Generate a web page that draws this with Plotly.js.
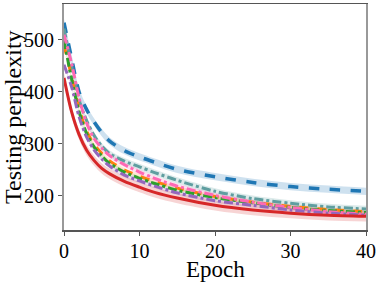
<!DOCTYPE html>
<html><head><meta charset="utf-8">
<script src="https://cdn.plot.ly/plotly-3.0.1.min.js"></script>
<style>body{margin:0;background:#fff}#c{width:382px;height:282px}</style>
</head><body><div id="c"></div>
<script>
const epochs = [0,1,2,3,4,5,6,8,10,12,15,20,25,30,35,40];
const blue   = [533,465,400,366,342,322,306,287,275,265,251,237,226,218,213,209];
const teal   = [522,450,385,345,316,296,282,267,256,245,230,209,195,186,179,175];
const pink   = [510,455,388,340,310,292,278,260,246,234,219,201,188,178,170,165];
const orange = [490,430,368,325,299,282,268,250,238,228,215,199,188,180,174,170];
const green  = [500,425,362,320,294,277,263,246,234,224,211,197,187,178,172,168];
const purple = [452,410,352,313,288,271,258,240,229,219,206,191,182,173,167,163];
const red    = [427,362,318,288,268,253,243,228,217,207,196,182,173,167,163,161];
const spreads = {blue:7, teal:6, pink:5, orange:4, green:4, purple:4, red:10};

const series = [
  {y: blue,   c:'#1f77b4', band:'rgba(31,119,180,0.22)', dash:'dash',    w:3.5, s:spreads.blue},
  {y: teal,   c:'#5f9ea0', band:'rgba(95,158,160,0.22)', dash:'dashdot', w:3,   s:spreads.teal},
  {y: orange, c:'#ff7f0e', band:'rgba(255,127,14,0.18)', dash:'dash',    w:3,   s:spreads.orange},
  {y: green,  c:'#2ca02c', band:'rgba(44,160,44,0.15)',  dash:'dashdot', w:3,   s:spreads.green},
  {y: pink,   c:'#ff69b4', band:'rgba(255,105,180,0.2)', dash:'dashdot', w:3,   s:spreads.pink},
  {y: purple, c:'#9467bd', band:'rgba(148,103,189,0.2)', dash:'dashdot', w:3,   s:spreads.purple},
  {y: red,    c:'#d62728', band:'rgba(214,39,40,0.2)',   dash:'solid',   w:3,   s:spreads.red}
];

const traces = [];
series.forEach(sr => {
  const up = sr.y.map(v => v + sr.s), lo = sr.y.map(v => v - sr.s);
  traces.push({x: epochs, y: up, mode:'lines', line:{width:0, shape:'spline'}, hoverinfo:'skip', showlegend:false});
  traces.push({x: epochs, y: lo, mode:'lines', line:{width:0, shape:'spline'}, fill:'tonexty', fillcolor: sr.band, hoverinfo:'skip', showlegend:false});
});
series.forEach(sr => {
  traces.push({x: epochs, y: sr.y, mode:'lines', line:{color: sr.c, width: sr.w, dash: sr.dash, shape:'spline', smoothing:0.8}, showlegend:false});
});

const fam = 'Liberation Serif, Times New Roman, serif';
Plotly.newPlot('c', traces, {
  width:382, height:282,
  margin:{l:64, r:16, t:4, b:52},
  paper_bgcolor:'#fff', plot_bgcolor:'#fff',
  font:{family:fam, color:'#000', size:20},
  showlegend:false,
  xaxis:{range:[0,40], tickvals:[0,10,20,30,40], showgrid:false, zeroline:false,
         showline:true, mirror:true, linecolor:'#555', linewidth:1.5,
         ticks:'outside', ticklen:4, tickcolor:'#555', tickfont:{size:20}, ticklabelstandoff:-2},
  yaxis:{range:[134.6,569], tickvals:[200,300,400,500], showgrid:false, zeroline:false,
         showline:true, mirror:true, linecolor:'#999', linewidth:2,
         ticks:'outside', ticklen:4, tickcolor:'#555', tickfont:{size:20}},
  annotations:[
    {text:'Testing perplexity', xref:'paper', yref:'paper', x:0, y:0.5, xshift:-51,
     xanchor:'center', yanchor:'middle', textangle:-90, showarrow:false, borderpad:0,
     font:{family:fam, size:24, color:'#000'}},
    {text:'Epoch', xref:'paper', yref:'paper', x:0.5, y:0, yshift:-39,
     xanchor:'center', yanchor:'middle', showarrow:false, borderpad:0,
     font:{family:fam, size:23, color:'#000'}}
  ]
}, {staticPlot:true});
</script></body></html>
